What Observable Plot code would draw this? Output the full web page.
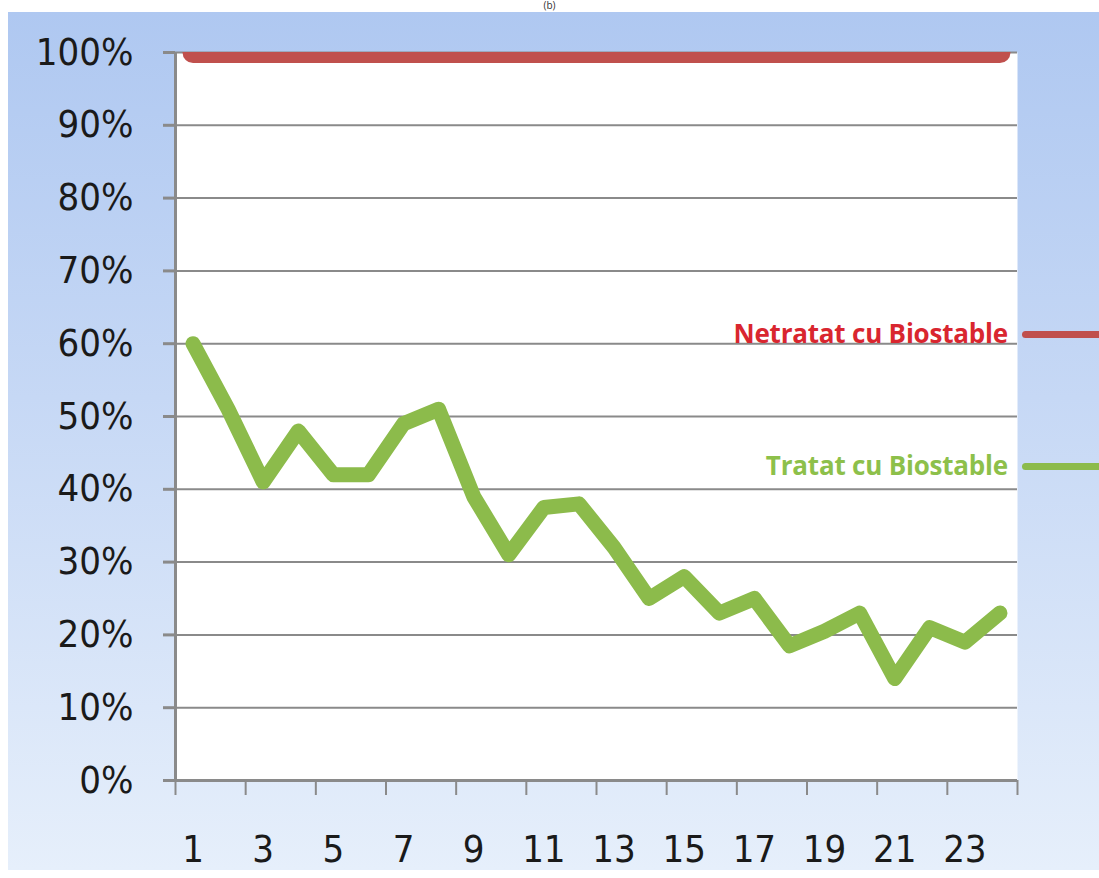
<!DOCTYPE html>
<html>
<head>
<meta charset="utf-8">
<script src="https://cdn.jsdelivr.net/npm/d3@7"></script>
<script src="https://cdn.jsdelivr.net/npm/@observablehq/plot@0.6"></script>
<style>
  html, body { margin: 0; padding: 0; background: #ffffff; width: 1099px; height: 878px; overflow: hidden; }
  #wrap { position: absolute; left: 8px; top: 12px; width: 1091px; height: 858px;
          background: linear-gradient(to bottom, #afc8f1 0%, #c6d8f5 45%, #e6effb 100%); }
  .leg { position: absolute; font-family: "Open Sans", sans-serif; font-weight: 700; font-size: 26px;
         line-height: 30px; text-align: right; white-space: nowrap; letter-spacing: -0.2px; }
  .legline { position: absolute; height: 7px; border-radius: 4px 0 0 4px; }
  #title { position: absolute; left: 0; width: 1099px; top: -1px; text-align: center;
           font-family: "Open Sans", sans-serif; font-size: 10px; line-height: 12px; color: #333; }
</style>
</head>
<body>
<div id="title">(b)</div>
<div id="wrap"></div>
<script>
// Data
const days = [1,2,3,4,5,6,7,8,9,10,11,12,13,14,15,16,17,18,19,20,21,22,23,24];
const netratat = [1,1,1,1,1,1,1,1,1,1,1,1,1,1,1,1,1,1,1,1,1,1,1,1];
const tratat = [0.60,0.51,0.41,0.48,0.42,0.42,0.49,0.51,0.39,0.31,0.375,0.38,0.32,0.25,0.28,0.23,0.25,0.185,0.205,0.23,0.14,0.21,0.19,0.23];
const yTicks = [0,0.1,0.2,0.3,0.4,0.5,0.6,0.7,0.8,0.9,1.0];
const xLabels = [1,3,5,7,9,11,13,15,17,19,21,23];
const xTickMarks = [0.5,2.5,4.5,6.5,8.5,10.5,12.5,14.5,16.5,18.5,20.5,22.5,24.5];
const seriesNames = ["Netratat cu Biostable", "Tratat cu Biostable"];
const seriesColors = ["#c0504d", "#8cbb4b"];
const labelColors = ["#d9262f", "#8dc04a"];

const redData = days.map((d, i) => ({day: d, v: netratat[i]}));
const greenData = days.map((d, i) => ({day: d, v: tratat[i]}));

const fontFam = '"DejaVu Sans Condensed", "DejaVu Sans", sans-serif';

const chart = Plot.plot({
  width: 1091,
  height: 858,
  marginLeft: 167,
  marginRight: 82,
  marginTop: 40,
  marginBottom: 90,
  style: { background: "transparent", fontFamily: fontFam, fontSize: "38px", color: "#1a1a1a", overflow: "visible" },
  x: { domain: [0.5, 24.5] },
  y: { domain: [0, 1] },
  marks: [
    Plot.frame({ fill: "white", stroke: null }),
    Plot.gridY(yTicks, { stroke: "#8a8a8a", strokeOpacity: 1, strokeWidth: 2 }),
    Plot.lineY(redData, { x: "day", y: "v", stroke: seriesColors[0], strokeWidth: 21, strokeLinecap: "round", clip: true }),
    Plot.lineY(greenData, { x: "day", y: "v", stroke: seriesColors[1], strokeWidth: 15, strokeLinecap: "round", strokeLinejoin: "round" }),
    Plot.ruleY([0], { stroke: "#8a8a8a", strokeWidth: 3 }),
    Plot.axisY({ ticks: yTicks, tickFormat: d3.format(".0%"), tickSize: 12, tickPadding: 30, stroke: "#8a8a8a", strokeWidth: 3, strokeOpacity: 1, label: null, fill: "#1a1a1a" }),
    Plot.ruleX([0.5], { y1: 0, y2: 1, stroke: "#8a8a8a", strokeWidth: 3 }),
    Plot.axisX({ ticks: xTickMarks, tickFormat: () => "", tickSize: 15, stroke: "#8a8a8a", strokeWidth: 2, strokeOpacity: 1, label: null }),
    Plot.axisX({ ticks: xLabels, tickFormat: d => String(d), tickSize: 0, tickPadding: 55, label: null, fill: "#1a1a1a" })
  ]
});
const wrap = document.getElementById("wrap");
wrap.appendChild(chart);

// Legend (positioned in page coordinates relative to wrap)
const legendY = [333, 465];
seriesNames.forEach((name, i) => {
  const t = document.createElement("div");
  t.className = "leg";
  t.textContent = name;
  t.style.color = labelColors[i];
  t.style.right = (1091 - (1008 - 8)) + "px";
  t.style.top = (legendY[i] - 12 - 15) + "px";
  wrap.appendChild(t);
  const l = document.createElement("div");
  l.className = "legline";
  l.style.background = seriesColors[i];
  l.style.left = (1022 - 8) + "px";
  l.style.width = (1099 - 1022) + "px";
  l.style.top = (legendY[i] + 1 - 12 - 3) + "px";
  wrap.appendChild(l);
});
</script>
</body>
</html>
